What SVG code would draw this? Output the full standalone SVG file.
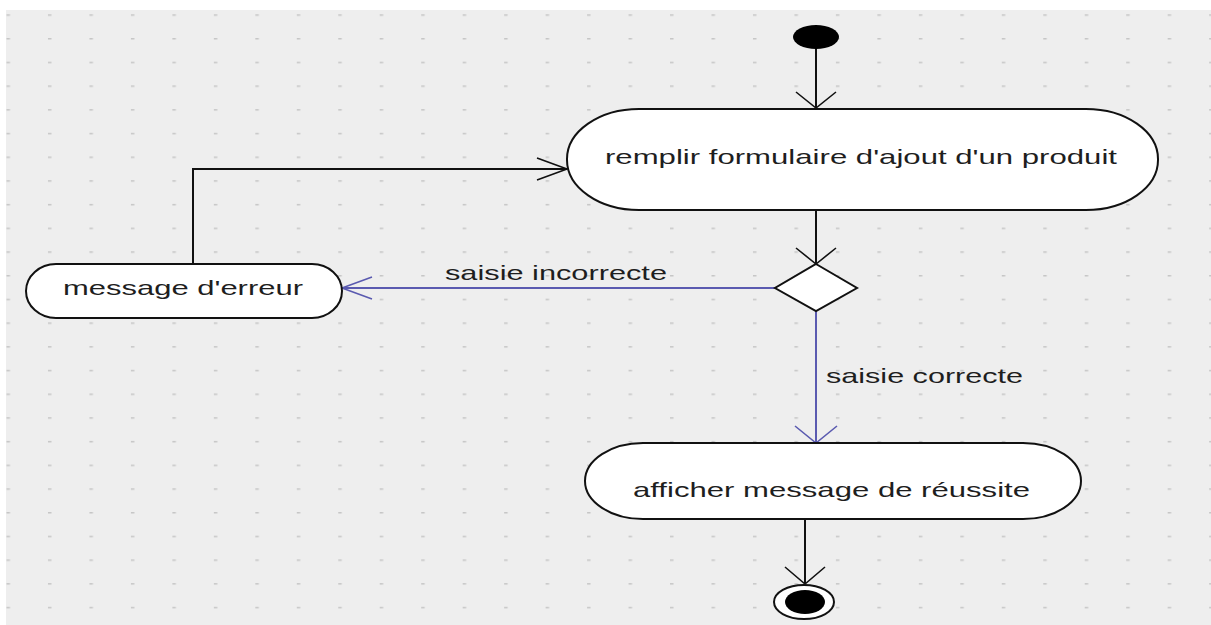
<svg xmlns="http://www.w3.org/2000/svg" width="1211" height="625" viewBox="0 0 1211 625">
  <defs>
    <pattern id="dots" x="6.5" y="14.3" width="41.47" height="23.7" patternUnits="userSpaceOnUse">
      <rect x="0" y="0" width="3.5" height="1.5" fill="#c6c6c6"/>
    </pattern>
    <style>
      .node { fill: #ffffff; stroke: #111111; stroke-width: 2; }
      .label { font-family: "Liberation Sans", Arial, sans-serif; font-size: 21px; fill: #1e1e1e; }
      .flow { fill: none; stroke: #111111; stroke-width: 2; }
      .guard { fill: none; stroke: #5a5ab0; stroke-width: 2; }
      .arrowK { fill: none; stroke: #111111; stroke-width: 1.6; }
      .arrowB { fill: none; stroke: #5a5ab0; stroke-width: 1.6; }
    </style>
  </defs>

  <rect x="0" y="0" width="1211" height="625" fill="#ffffff"/>
  <rect x="6" y="10" width="1205" height="615" fill="#eeeeee"/>
  <rect x="6" y="10" width="1205" height="615" fill="url(#dots)"/>

  <g id="connectors">
    <!-- start to remplir -->
    <path class="flow" d="M816,49 L816,108"/>
    <path class="arrowK" d="M796,92 L816,108 L836,92"/>
    <!-- remplir to decision -->
    <path class="flow" d="M816,210 L816,264"/>
    <path class="arrowK" d="M796,248 L816,264 L836,248"/>
    <!-- decision to message d'erreur -->
    <path class="guard" d="M775,288 L342,288"/>
    <path class="arrowB" d="M372,277 L342,288 L372,299"/>
    <text class="label" x="445" y="280" textLength="222" lengthAdjust="spacingAndGlyphs">saisie incorrecte</text>
    <!-- message d'erreur back to remplir -->
    <path class="flow" d="M193,264 L193,169 L567,169"/>
    <path class="arrowK" d="M537,158 L567,169 L537,180"/>
    <!-- decision to afficher -->
    <path class="guard" d="M816,311 L816,443"/>
    <path class="arrowB" d="M795,426 L816,443 L837,426"/>
    <text class="label" x="826" y="383" textLength="197" lengthAdjust="spacingAndGlyphs">saisie correcte</text>
    <!-- afficher to end -->
    <path class="flow" d="M805,519 L805,584"/>
    <path class="arrowK" d="M785,567 L805,584 L825,567"/>
  </g>

  <g id="start">
    <ellipse cx="816" cy="37" rx="23" ry="12" fill="#000000"/>
  </g>

  <g id="remplir">
    <rect class="node" x="567" y="109" width="591" height="101" rx="72" ry="50"/>
    <text class="label" x="605" y="164" textLength="512" lengthAdjust="spacingAndGlyphs">remplir formulaire d'ajout d'un produit</text>
  </g>

  <g id="decision">
    <polygon class="node" points="816,264 857,288 816,311 775,288"/>
  </g>

  <g id="erreur">
    <rect class="node" x="26" y="264" width="316" height="54" rx="30" ry="27"/>
    <text class="label" x="63" y="295" textLength="240" lengthAdjust="spacingAndGlyphs">message d'erreur</text>
  </g>

  <g id="reussite">
    <rect class="node" x="585" y="443" width="496" height="76" rx="58" ry="38"/>
    <text class="label" x="633" y="497" textLength="397" lengthAdjust="spacingAndGlyphs">afficher message de réussite</text>
  </g>

  <g id="end">
    <ellipse cx="804" cy="602" rx="30" ry="17" fill="#ffffff" stroke="#111111" stroke-width="2"/>
    <ellipse cx="805" cy="602" rx="20" ry="12" fill="#000000"/>
  </g>
</svg>
